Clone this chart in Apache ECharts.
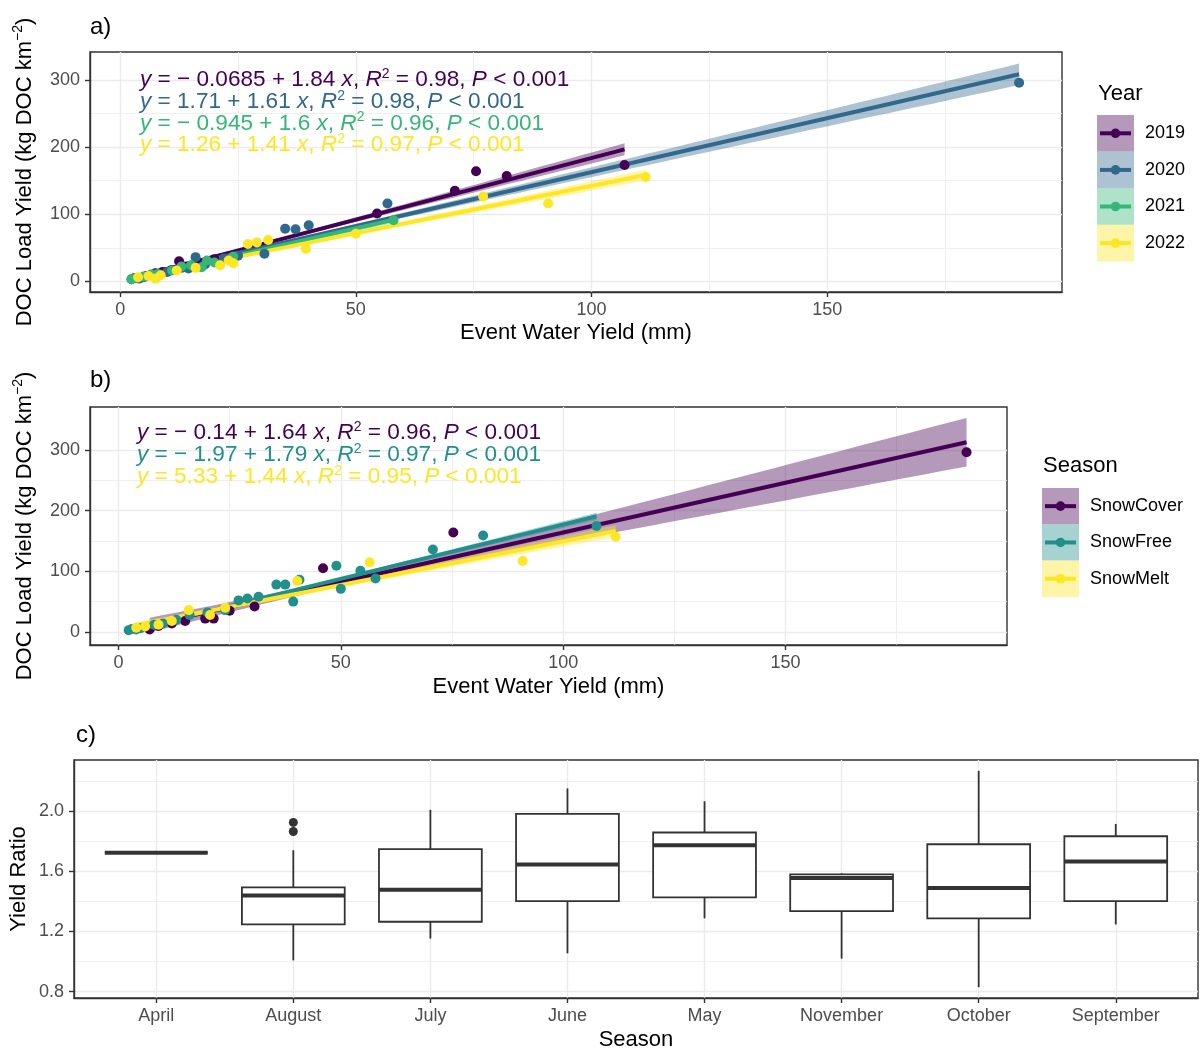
<!DOCTYPE html>
<html><head><meta charset="utf-8">
<script src="https://cdn.jsdelivr.net/npm/echarts@6/dist/echarts.min.js"></script>
<style>html,body{margin:0;padding:0;background:#fff}#chart{width:1200px;height:1050px}</style>
</head><body><div id="chart"></div>
<script>
// ================= DATA =================
// Panel a: by Year  [Event Water Yield (mm), DOC Load Yield]
const years = ['2019', '2020', '2021', '2022'];
const year2019 = [[5.6,8],[7.5,12],[9,14],[11,17],[12.5,30],[14,22],[17,27],[20,33],[54.5,101],[71,135],[75.5,164],[82,157],[107,173.5]];
const year2020 = [[2.4,3],[3,5],[4,4],[5,6],[7,10],[10,14],[13,20],[14.5,19],[16,36],[18,25],[22,34],[25,38],[30.6,41],[35,78.5],[37.2,77.6],[40,83.6],[56.7,116],[190.7,296]];
const year2021 = [[2.4,3],[3.5,5],[5,7],[6.5,10],[8,11],[11,16],[13,22],[15,24],[17.3,21],[18.4,31],[20,28],[24,37],[58,91]];
const year2022 = [[3.8,6],[6,8],[7.5,4],[8.6,9],[12,16],[16,20],[21.2,24],[23,31],[24,27],[27.1,55.7],[29,58],[31.4,61.6],[39.4,48.5],[50,71],[77,126.5],[90.8,116],[111.5,155.5]];
const yearIntercepts = [-0.0685, 1.71, -0.945, 1.26];
const yearSlopes = [1.84, 1.61, 1.6, 1.41];
const yearR2 = [0.98, 0.98, 0.96, 0.97];
// confidence band: x of narrowest point, half-width there, half-width at max x
const yearCiMeanX = [30, 30, 14, 30];
const yearCiMin = [2.5, 2.5, 2, 2.5];
const yearCiEnd = [9, 16, 5, 8];

// Panel b: by Season
const seasons = ['SnowCover', 'SnowFree', 'SnowMelt'];
const snowCover = [[7,4],[9,10],[12,14],[15,18],[19.5,22],[21.4,22],[25,35],[30.6,42],[46,105],[75.3,164],[190.7,296]];
const snowFree = [[2.3,3],[3,5],[4,4],[5,6],[8,12],[10,14],[13,20],[16,28],[20,32],[24,36],[27,52],[29,55],[31.5,58],[35.5,78],[37.5,78],[39.3,50],[40.7,86],[49,109],[50,71],[54.4,101],[57.8,88],[70.7,136],[82,159],[107.5,174.7]];
const snowMelt = [[4,7],[6,9],[9,12],[12,18],[15.8,36],[20.6,28],[24,40],[40.2,84],[56.5,115],[90.9,117],[111.8,157]];
const seasonIntercepts = [-0.14, -1.97, 5.33];
const seasonSlopes = [1.64, 1.79, 1.44];
const seasonR2 = [0.96, 0.97, 0.95];
const seasonCiMeanX = [46, 30, 35];
const seasonCiMin = [6, 2, 3.5];
const seasonCiEnd = [40, 6, 10];

// Panel c: Yield Ratio by month
const months = ['April','August','July','June','May','November','October','September'];
const whiskerLow  = [1.724, 1.008, 1.153, 1.055, 1.287, 1.020, 0.830, 1.247];
const quart1      = [1.724, 1.247, 1.265, 1.402, 1.427, 1.335, 1.287, 1.402];
const medians     = [1.724, 1.440, 1.478, 1.645, 1.774, 1.556, 1.490, 1.665];
const quart3      = [1.724, 1.493, 1.747, 1.982, 1.858, 1.580, 1.780, 1.833];
const whiskerHigh = [1.724, 1.740, 2.009, 2.151, 2.066, 1.587, 2.268, 1.915];
const outlierMonth = [1, 1];
const outlierValue = [1.865, 1.925];

// Tick values
const ticksXab = [0, 50, 100, 150];
const minorXab = [25, 75, 125, 175];
const ticksYab = [0, 100, 200, 300];
const minorYab = [50, 150, 250];
const ticksYc = [0.8, 1.2, 1.6, 2.0];
const minorYc = [1.0, 1.4, 1.8, 2.2];
const ticksXc = [0, 1, 2, 3, 4, 5, 6, 7];

// ================= STYLE =================
const FONT = '"Liberation Sans", Arial, sans-serif';
const yearColors = ['#440154', '#31688E', '#35B779', '#FDE725'];
const seasonColors = ['#440154', '#21908C', '#FDE725'];
function rgba(hex, a) {
  const n = parseInt(hex.slice(1), 16);
  return `rgba(${(n >> 16) & 255},${(n >> 8) & 255},${n & 255},${a})`;
}

const series = [];
function gridLines(idx, majX, minX, majY, minY) {
  const maj = {width: 1.4, color: '#EBEBEB', type: 'solid'};
  const min = {width: 0.8, color: '#EBEBEB', type: 'solid'};
  const d = [];
  minX.forEach(v => d.push({xAxis: v, lineStyle: min}));
  minY.forEach(v => d.push({yAxis: v, lineStyle: min}));
  majX.forEach(v => d.push({xAxis: v, lineStyle: maj}));
  majY.forEach(v => d.push({yAxis: v, lineStyle: maj}));
  series.push({
    type: 'line', xAxisIndex: idx, yAxisIndex: idx, data: [], silent: true, z: 0,
    markLine: {silent: true, z: 0, symbol: ['none', 'none'], label: {show: false}, animation: false, data: d}
  });
}
gridLines(0, ticksXab, minorXab, ticksYab, minorYab);
gridLines(1, ticksXab, minorXab, ticksYab, minorYab);
gridLines(2, ticksXc, [], ticksYc, minorYc);

function addPoints(idx, pts, color) {
  series.push({type: 'scatter', xAxisIndex: idx, yAxisIndex: idx, data: pts, symbolSize: 10,
    itemStyle: {color: color, opacity: 1}, silent: true, z: 2});
}
function addFit(idx, pts, a, b, mx, hMin, hEnd, color) {
  const xs = pts.map(p => p[0]);
  const x0 = Math.min(...xs), x1 = Math.max(...xs);
  const far = Math.max(Math.abs(x1 - mx), 1e-6);
  const hw = x => Math.sqrt(hMin * hMin + (hEnd * hEnd - hMin * hMin) * Math.pow((x - mx) / far, 2));
  const upper = [], lower = [];
  const N = 60;
  for (let i = 0; i <= N; i++) {
    const x = x0 + (x1 - x0) * i / N;
    const y = a + b * x;
    upper.push([x, y + hw(x)]);
    lower.push([x, y - hw(x)]);
  }
  series.push({
    type: 'custom', xAxisIndex: idx, yAxisIndex: idx, silent: true, z: 2,
    data: [[x0, a + b * x0]],
    renderItem: (params, api) => {
      const poly = upper.map(p => api.coord(p)).concat(lower.slice().reverse().map(p => api.coord(p)));
      return {type: 'polygon', shape: {points: poly}, style: {fill: rgba(color, 0.4)}};
    }
  });
  series.push({
    type: 'line', xAxisIndex: idx, yAxisIndex: idx, silent: true, z: 2,
    data: [[x0, a + b * x0], [x1, a + b * x1]], showSymbol: false, symbol: 'none',
    lineStyle: {color: color, width: 4}
  });
}

const yearData = [year2019, year2020, year2021, year2022];
yearData.forEach((d, i) => addPoints(0, d, yearColors[i]));
yearData.forEach((d, i) => addFit(0, d, yearIntercepts[i], yearSlopes[i], yearCiMeanX[i], yearCiMin[i], yearCiEnd[i], yearColors[i]));

const seasonData = [snowCover, snowFree, snowMelt];
seasonData.forEach((d, i) => addPoints(1, d, seasonColors[i]));
seasonData.forEach((d, i) => addFit(1, d, seasonIntercepts[i], seasonSlopes[i], seasonCiMeanX[i], seasonCiMin[i], seasonCiEnd[i], seasonColors[i]));

// Boxplots (panel c)
series.push({
  type: 'custom', xAxisIndex: 2, yAxisIndex: 2, silent: true, z: 2,
  data: months.map((m, i) => [i, whiskerLow[i], quart1[i], medians[i], quart3[i], whiskerHigh[i]]),
  renderItem: (params, api) => {
    const i = api.value(0);
    const w = api.size([0.75, 0])[0];
    const pLow = api.coord([i, api.value(1)]);
    const pQ1 = api.coord([i, api.value(2)]);
    const pMed = api.coord([i, api.value(3)]);
    const pQ3 = api.coord([i, api.value(4)]);
    const pHigh = api.coord([i, api.value(5)]);
    const cx = pMed[0];
    const stroke = '#333333';
    return {type: 'group', children: [
      {type: 'line', shape: {x1: cx, y1: pHigh[1], x2: cx, y2: pQ3[1]}, style: {stroke, lineWidth: 1.8}},
      {type: 'line', shape: {x1: cx, y1: pQ1[1], x2: cx, y2: pLow[1]}, style: {stroke, lineWidth: 1.8}},
      {type: 'rect', shape: {x: cx - w / 2, y: pQ3[1], width: w, height: pQ1[1] - pQ3[1]}, style: {fill: '#fff', stroke, lineWidth: 1.8}},
      {type: 'line', shape: {x1: cx - w / 2, y1: pMed[1], x2: cx + w / 2, y2: pMed[1]}, style: {stroke, lineWidth: 4}}
    ]};
  }
});
series.push({type: 'scatter', xAxisIndex: 2, yAxisIndex: 2, silent: true, z: 3,
  data: outlierMonth.map((m, i) => [m, outlierValue[i]]), symbolSize: 9, itemStyle: {color: '#333333', opacity: 1}});

// ================= AXES =================
const tickStyle = {show: true, length: 5, lineStyle: {color: '#333333', width: 1.4}};
const axLine = {show: true, onZero: false, lineStyle: {color: '#333333', width: 1.4}};
function xAx(grid, min, max, ticks, name, gap, fmt) {
  return {type: 'value', gridIndex: grid, min, max, position: 'bottom', axisLine: axLine, splitLine: {show: false},
    axisTick: Object.assign({customValues: ticks}, tickStyle),
    axisLabel: {customValues: ticks, color: '#4D4D4D', fontSize: 18, fontFamily: FONT, margin: 9, formatter: fmt},
    name, nameLocation: 'middle', nameGap: gap, nameMoveOverlap: false,
    nameTextStyle: {fontSize: 22, color: '#000', fontFamily: FONT}};
}
const supRich = {s: {fontSize: 14, color: '#000', fontFamily: FONT, verticalAlign: 'top', lineHeight: 28}};
function yAx(grid, min, max, ticks, name, gap, fmt) {
  return {type: 'value', gridIndex: grid, min, max, position: 'left', axisLine: axLine, splitLine: {show: false},
    axisTick: Object.assign({customValues: ticks}, tickStyle),
    axisLabel: {customValues: ticks, color: '#4D4D4D', fontSize: 18, fontFamily: FONT, margin: 10, formatter: fmt},
    name, nameLocation: 'middle', nameGap: gap, nameMoveOverlap: false,
    nameTextStyle: {fontSize: 22, color: '#000', fontFamily: FONT, lineHeight: 28, rich: supRich}};
}
const docTitle = 'DOC Load Yield (kg DOC km{s|−2})';

// ================= GRAPHICS (labels, equations, legends) =================
const graphics = [];
function label(txt, x, y) {
  graphics.push({type: 'text', x, y, style: {text: txt, fill: '#000', fontSize: 24, fontFamily: FONT, verticalAlign: 'middle'}});
}
label('a)', 90, 27); label('b)', 90, 380); label('c)', 76, 735);

function eqText(a, b, r2) {
  const sign = a < 0 ? '− ' : '';
  return `{i|y} = ${sign}${Math.abs(a)} + ${b} {i|x}, {i|R}{s|2} = ${r2.toFixed(2)}, {i|P} < 0.001`;
}
function addEq(txt, x, y, color) {
  graphics.push({type: 'text', x, y, z: 100, style: {
    text: txt, fill: color, fontSize: 22.6, fontFamily: FONT, verticalAlign: 'middle', lineHeight: 26,
    rich: {
      i: {fontStyle: 'italic', fontSize: 22.6, fontFamily: FONT, fill: color, lineHeight: 26},
      s: {fontSize: 14, fontFamily: FONT, fill: color, verticalAlign: 'top', lineHeight: 26}
    }}});
}
years.forEach((y, i) => addEq(eqText(yearIntercepts[i], yearSlopes[i], yearR2[i]), 140, 80 + 21.7 * i, yearColors[i]));
seasons.forEach((s, i) => addEq(eqText(seasonIntercepts[i], seasonSlopes[i], seasonR2[i]), 137, 433 + 22 * i, seasonColors[i]));

function legend(title, names, colors, x, titleY, keyTop, keyH, labelX) {
  graphics.push({type: 'text', x, y: titleY, style: {text: title, fill: '#000', fontSize: 22, fontFamily: FONT, verticalAlign: 'middle'}});
  names.forEach((n, i) => {
    const top = keyTop + keyH * i, cy = top + keyH / 2;
    graphics.push({type: 'rect', shape: {x: x - 1, y: top, width: 37, height: keyH}, style: {fill: rgba(colors[i], 0.4)}});
    graphics.push({type: 'line', shape: {x1: x + 2, y1: cy, x2: x + 33, y2: cy}, style: {stroke: colors[i], lineWidth: 4}});
    graphics.push({type: 'circle', shape: {cx: x + 17.5, cy, r: 4.8}, style: {fill: colors[i]}});
    graphics.push({type: 'text', x: labelX, y: cy, style: {text: n, fill: '#000', fontSize: 18, fontFamily: FONT, verticalAlign: 'middle'}});
  });
}
legend('Year', years, yearColors, 1098, 94, 115, 36.6, 1145);
legend('Season', seasons, seasonColors, 1043, 466, 488, 36.3, 1090);

// ================= CHART =================
const gridStyle = {show: true, borderColor: '#333333', borderWidth: 1.4, backgroundColor: 'rgba(0,0,0,0)', outerBoundsMode: 'none', containLabel: false};
const option = {
  animation: false,
  backgroundColor: '#ffffff',
  grid: [
    Object.assign({left: 90, top: 52, width: 972, height: 240}, gridStyle),
    Object.assign({left: 90, top: 407, width: 917, height: 238}, gridStyle),
    Object.assign({left: 74, top: 760, width: 1124, height: 238}, gridStyle)
  ],
  xAxis: [
    xAx(0, -6.4, 199.8, ticksXab, 'Event Water Yield (mm)', 30),
    xAx(1, -6.4, 199.8, ticksXab, 'Event Water Yield (mm)', 31),
    xAx(2, -0.6, 7.6, ticksXc, 'Season', 31, v => months[Math.round(v)] || '')
  ],
  yAxis: [
    yAx(0, -16, 342, ticksYab, docTitle, 51),
    yAx(1, -21.5, 370.7, ticksYab, docTitle, 51),
    yAx(2, 0.758, 2.34, ticksYc, 'Yield Ratio', 41, v => v.toFixed(1))
  ],
  series,
  graphic: graphics
};
const chart = echarts.init(document.getElementById('chart'));
chart.setOption(option);
</script>
</body></html>
